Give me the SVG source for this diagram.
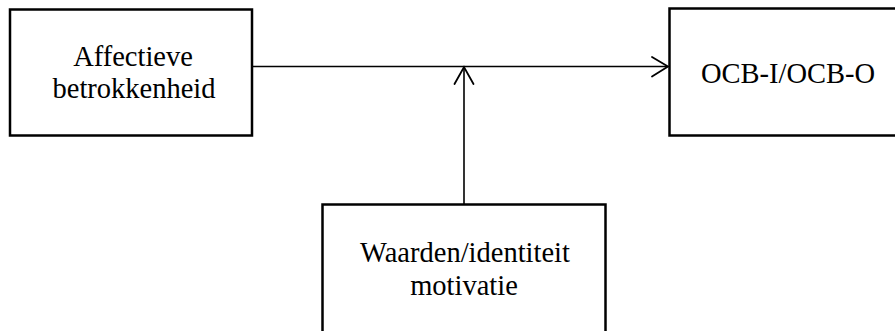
<svg xmlns="http://www.w3.org/2000/svg" width="895" height="331" viewBox="0 0 895 331">
  <style>
    .box { fill: #ffffff; stroke: #000000; stroke-width: 2.5; }
    .label { font-size: 28.5px; fill: #000000; text-anchor: middle; }
    .conn { fill: none; stroke: #000000; stroke-width: 1.6; }
    .head { fill: none; stroke: #000000; stroke-width: 1.8; stroke-linecap: round; stroke-linejoin: miter; }
  </style>
  <rect x="0" y="0" width="895" height="331" fill="#ffffff"/>

  <g id="connectors">
    <line class="conn" x1="252" y1="66.5" x2="667" y2="66.5"/>
    <polyline class="head" points="652,57 668,66.5 652,76.5"/>
    <line class="conn" x1="464" y1="204" x2="464" y2="68"/>
    <polyline class="head" points="454.5,84 464,67 473.5,84"/>
  </g>

  <g font-family="Liberation Serif, DejaVu Serif, serif">
    <g id="node-affectieve">
      <rect class="box" x="10" y="9.5" width="242" height="126"/>
      <text class="label" x="133" y="66">Affectieve</text>
      <text class="label" x="134" y="98">betrokkenheid</text>
    </g>

    <g id="node-ocb">
      <rect class="box" x="669.5" y="8.5" width="240" height="127"/>
      <text class="label" x="788" y="83">OCB-I/OCB-O</text>
    </g>

    <g id="node-waarden">
      <rect class="box" x="322.5" y="204.5" width="283" height="140"/>
      <text class="label" x="465" y="262">Waarden/identiteit</text>
      <text class="label" x="464" y="295">motivatie</text>
    </g>
  </g>
</svg>
